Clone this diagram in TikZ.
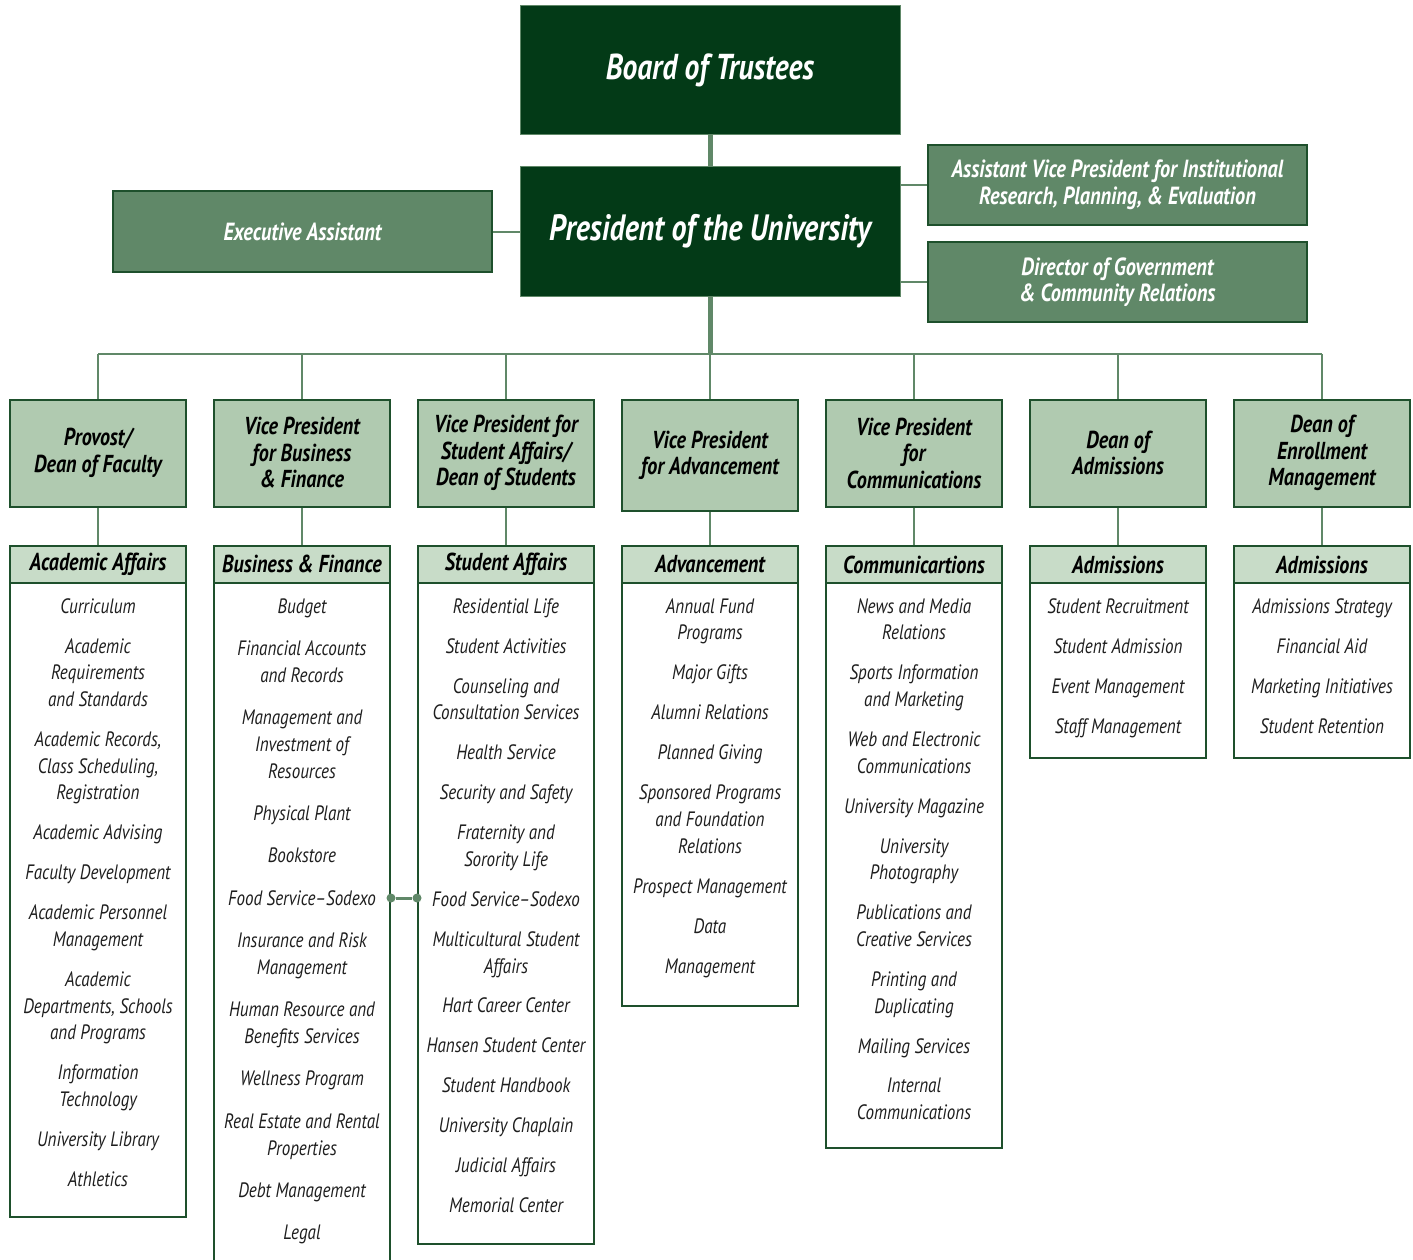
\documentclass[tikz,border=0pt]{standalone}
\usepackage{fontspec}
\setmainfont{PT Sans}[FakeStretch=0.82]
\definecolor{dkgreen}{RGB}{3,58,23}
\definecolor{mdgreen}{RGB}{96,136,104}
\definecolor{bdgreen}{RGB}{30,80,44}
\definecolor{ltgreen}{RGB}{176,202,176}
\definecolor{hdgreen}{RGB}{200,220,200}
\definecolor{txtgray}{RGB}{30,30,30}
\newcommand{\firstln}{\rule{0pt}{15pt}}
\begin{document}
\begin{tikzpicture}[x=1pt,y=-1pt,
  topbox/.style={draw=mdgreen, line width=1pt, fill=dkgreen, text=white, minimum width=380pt, minimum height=129pt, inner sep=0pt},
  sidebox/.style={draw=bdgreen, line width=2pt, fill=mdgreen, text=white, minimum width=379pt, minimum height=80pt, inner sep=0pt, align=center, font=\bfseries\itshape\fontsize{24.8}{26.5}\selectfont},
  vpbox/.style={draw=bdgreen, line width=2pt, fill=ltgreen, text=black, minimum width=176pt, minimum height=107pt, inner sep=0pt, align=center, font=\bfseries\itshape\fontsize{24.5}{26.5}\selectfont},
  deptbox/.style={draw=bdgreen, line width=2pt, fill=white, minimum width=176pt, inner sep=0pt, anchor=north},
  headbox/.style={draw=bdgreen, line width=2pt, fill=hdgreen, text=black, minimum width=176pt, minimum height=37pt, inner sep=0pt, anchor=north, font=\bfseries\itshape\fontsize{24.5}{26}\selectfont},
  items/.style={anchor=north, inner sep=0pt, align=center, text=txtgray, font=\itshape\fontsize{20.8}{26.67}\selectfont},
  conn/.style={draw=mdgreen, line width=2pt},
  thickconn/.style={draw=mdgreen, line width=5pt},
  dot/.style={circle, fill=mdgreen, minimum size=9pt, inner sep=0pt},
]
\path[use as bounding box, clip] (0,0) rectangle (1413,1260);

% top level
\node[topbox, font=\bfseries\itshape\fontsize{36}{40}\selectfont] (board) at (710,70.5) {Board of Trustees};
\node[topbox, font=\bfseries\itshape\fontsize{36.6}{40}\selectfont] (pres) at (710,231.5) {President of the University};
\node[sidebox] (exec) at (302.5,231.5) {Executive Assistant};
\node[sidebox] (avp) at (1117.5,185) {Assistant Vice President for Institutional\\Research, Planning, \& Evaluation};
\node[sidebox] (dir) at (1117.5,282) {Director of Government\\\& Community Relations};

\draw[thickconn] (board.south) -- (pres.north);
\draw[conn] (exec.east) -- (exec.east -| pres.west);
\draw[conn] (avp.west) -- (avp.west -| pres.east);
\draw[conn] (dir.west) -- (dir.west -| pres.east);

% VP level
\node[vpbox] (vp1) at (98,453) {Provost/\\Dean of Faculty};
\node[vpbox] (vp2) at (302,453) {Vice President\\for Business\\\& Finance};
\node[vpbox] (vp3) at (506,453) {Vice President for\\Student Affairs/\\Dean of Students};
\node[vpbox, minimum height=111pt] (vp4) at (710,455.5) {Vice President\\for Advancement};
\node[vpbox] (vp5) at (914,453) {Vice President\\for\\Communications};
\node[vpbox] (vp6) at (1118,453) {Dean of\\Admissions};
\node[vpbox] (vp7) at (1322,453) {Dean of\\Enrollment\\Management};

\coordinate (bus) at (710,354);
\draw[thickconn] (pres.south) -- (bus);
\draw[conn] (vp1.north |- bus) -- (vp7.north |- bus);
\foreach \v in {vp1,vp2,vp3,vp4,vp5,vp6,vp7}
  \draw[conn] (\v.north) -- (\v.north |- bus);

% department boxes
\node[deptbox, minimum height=671pt] (d1) at (98,545) {};
\node[deptbox, minimum height=740pt] (d2) at (302,545) {};
\node[deptbox, minimum height=698pt] (d3) at (506,545) {};
\node[deptbox, minimum height=460pt] (d4) at (710,545) {};
\node[deptbox, minimum height=602pt] (d5) at (914,545) {};
\node[deptbox, minimum height=212pt] (d6) at (1118,545) {};
\node[deptbox, minimum height=212pt] (d7) at (1322,545) {};

\node[headbox] (h1) at (d1.north) {Academic Affairs};
\node[headbox] (h2) at (d2.north) {Business \& Finance};
\node[headbox] (h3) at (d3.north) {Student Affairs};
\node[headbox] (h4) at (d4.north) {Advancement};
\node[headbox] (h5) at (d5.north) {Communicartions};
\node[headbox] (h6) at (d6.north) {Admissions};
\node[headbox] (h7) at (d7.north) {Admissions};

\foreach \i in {1,...,7}
  \draw[conn] (vp\i.south) -- (h\i.north);

% item lists
\node[items] (l1) at (98,598) {\firstln Curriculum\\[13.3pt]
Academic\\Requirements\\and Standards\\[13.3pt]
Academic Records,\\Class Scheduling,\\Registration\\[13.3pt]
Academic Advising\\[13.3pt]
Faculty Development\\[13.3pt]
Academic Personnel\\Management\\[13.3pt]
Academic\\Departments, Schools\\and Programs\\[13.3pt]
Information\\Technology\\[13.3pt]
University Library\\[13.3pt]
Athletics};

\node[items] (l2) at (302,598) {\firstln Budget\\[15.75pt]
Financial Accounts\\and Records\\[15.75pt]
Management and\\Investment of\\Resources\\[15.75pt]
Physical Plant\\[15.75pt]
Bookstore\\[15.75pt]
Food Service--Sodexo\\[15.75pt]
Insurance and Risk\\Management\\[15.75pt]
Human Resource and\\Benefits Services\\[15.75pt]
Wellness Program\\[15.75pt]
Real Estate and Rental\\Properties\\[15.75pt]
Debt Management\\[15.75pt]
Legal};

\node[items] (l3) at (506,598) {\firstln Residential Life\\[13.3pt]
Student Activities\\[13.3pt]
Counseling and\\Consultation Services\\[13.3pt]
Health Service\\[13.3pt]
Security and Safety\\[13.3pt]
Fraternity and\\Sorority Life\\[13.3pt]
Food Service--Sodexo\\[13.3pt]
Multicultural Student\\Affairs\\[13.3pt]
Hart Career Center\\[13.3pt]
Hansen Student Center\\[13.3pt]
Student Handbook\\[13.3pt]
University Chaplain\\[13.3pt]
Judicial Affairs\\[13.3pt]
Memorial Center};

\node[items] (l4) at (710,598) {\firstln Annual Fund\\Programs\\[13.3pt]
Major Gifts\\[13.3pt]
Alumni Relations\\[13.3pt]
Planned Giving\\[13.3pt]
Sponsored Programs\\and Foundation\\Relations\\[13.3pt]
Prospect Management\\[13.3pt]
Data\\[13.3pt]
Management};

\node[items] (l5) at (914,598) {\firstln News and Media\\Relations\\[13.3pt]
Sports Information\\and Marketing\\[13.3pt]
Web and Electronic\\Communications\\[13.3pt]
University Magazine\\[13.3pt]
University\\Photography\\[13.3pt]
Publications and\\Creative Services\\[13.3pt]
Printing and\\Duplicating\\[13.3pt]
Mailing Services\\[13.3pt]
Internal\\Communications};

\node[items] (l6) at (1118,598) {\firstln Student Recruitment\\[13.3pt]
Student Admission\\[13.3pt]
Event Management\\[13.3pt]
Staff Management};

\node[items] (l7) at (1322,598) {\firstln Admissions Strategy\\[13.3pt]
Financial Aid\\[13.3pt]
Marketing Initiatives\\[13.3pt]
Student Retention};

% food service link
\node[dot] (dotL) at (d2.east |- 0,898) {};
\node[dot] (dotR) at (d3.west |- 0,898) {};
\draw[conn, line width=3pt] (dotL) -- (dotR);
\end{tikzpicture}
\end{document}
